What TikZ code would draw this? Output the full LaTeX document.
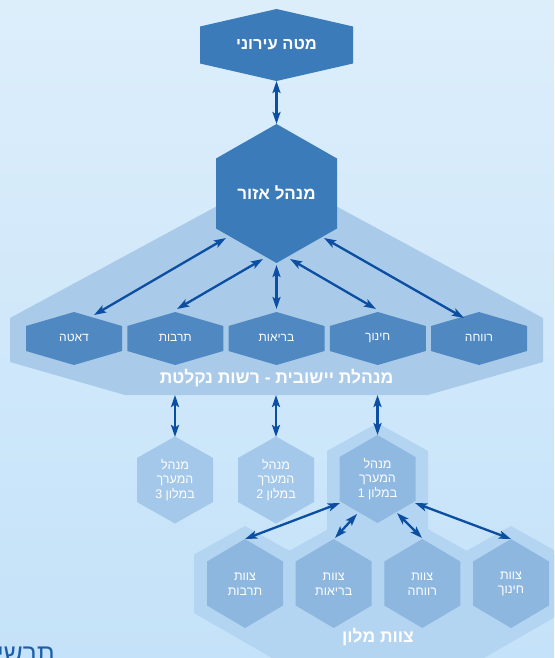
\documentclass[tikz,border=0pt]{standalone}
\usepackage{fontspec}
\setmainfont{Liberation Sans}
\newfontfamily\heb[Script=Hebrew]{Liberation Sans}
\TeXXeTstate=1
\usetikzlibrary{arrows.meta}
\definecolor{bgtop}{HTML}{DDEEFB}
\definecolor{bgbot}{HTML}{C4E2F9}
\definecolor{darkhex}{HTML}{3B7BB9}
\definecolor{lvltwobox}{HTML}{A9CBE9}
\definecolor{lvltwohex}{HTML}{5088C2}
\definecolor{hotelhex}{HTML}{A4C8EA}
\definecolor{hotelone}{HTML}{90B9E1}
\definecolor{teamband}{HTML}{B3D5F1}
\definecolor{teamhex}{HTML}{8EB7E0}
\definecolor{arrowc}{HTML}{0B4EA2}
\definecolor{titlec}{HTML}{1E5EA8}
\newcommand\HexAt[5]{(#1,#2-#5) -- (#1+#3,#2-#4) -- (#1+#3,#2+#4) -- (#1,#2+#5) -- (#1-#3,#2+#4) -- (#1-#3,#2-#4) -- cycle}
\newcommand\RL[1]{\beginR #1\endR}
\tikzset{
  dbl/.style={line width=2.3pt, draw=arrowc, {Stealth[length=12pt,width=8pt,inset=2.5pt]}-{Stealth[length=12pt,width=8pt,inset=2.5pt]}},
  bigtxt/.style={text=white, font=\heb\bfseries\fontsize{17.5}{19}\selectfont, inner sep=0pt},
  midtxt/.style={text=white, font=\heb\fontsize{12}{14}\selectfont, inner sep=0pt},
  smalltxt/.style={text=white, font=\heb\fontsize{12.5}{14.5}\selectfont, align=center, inner sep=0pt},
}
\begin{document}
\begin{tikzpicture}[x=1pt,y=-1pt]
\useasboundingbox (0,0) rectangle (554,658);
\clip (0,0) rectangle (554,658);
\shade[top color=bgtop, bottom color=bgbot] (0,0) rectangle (554,658);
% level-2 container
\fill[lvltwobox] (10,318) -- (276.5,174) -- (543,318) -- (543,362) -- (428,395) -- (125,395) -- (10,362) -- cycle;
% top hexagons
\fill[darkhex] \HexAt{276.5}{45}{76.5}{18.5}{36};
\fill[darkhex] \HexAt{276.5}{193.5}{60.5}{35}{69.5};
% level-2 hexagons
\foreach \cx in {74,175.25,276.5,377.75,479}{
  \fill[lvltwohex] \HexAt{\cx}{338.5}{48}{12.5}{26.5};
}
% team band
\fill[teamband] (194,555) -- (562,555) -- (562,613) -- (411,700) -- (345,700) -- (194,613) -- cycle;
\fill[teamband] (327,451) -- (377.5,423) -- (428,451) -- (428,560) -- (327,560) -- cycle;
\foreach \cx in {245,333.7,422.3,511}{
  \fill[teamband] \HexAt{\cx}{583.5}{51}{29}{57.5};
}
% hotel hexagons
\fill[hotelhex] \HexAt{175}{480}{38}{22}{43.5};
\fill[hotelhex] \HexAt{276}{480}{38}{22}{43.5};
\fill[hotelone] \HexAt{377.5}{479}{38}{22}{44};
% team hexagons
\foreach \cx in {245,333.7,422.3,511}{
  \fill[teamhex] \HexAt{\cx}{583.5}{38}{22}{44.5};
}
% texts
\node[bigtxt, font=\heb\bfseries\fontsize{16.5}{18}\selectfont] (tMeta) at (276.5,45) {\RL{מטה עירוני}};
\node[bigtxt, font=\heb\bfseries\fontsize{17}{19}\selectfont] (tAzor) at (276.5,193) {\RL{מנהל אזור}};
\node[midtxt] (tData) at (74,338) {\RL{דאטה}};
\node[midtxt] (tTarb) at (175.25,338) {\RL{תרבות}};
\node[midtxt] (tBria) at (276.5,338) {\RL{בריאות}};
\node[midtxt] (tHinuch) at (377.75,338) {\RL{חינוך}};
\node[midtxt] (tRevaha) at (479,338) {\RL{רווחה}};
\node[bigtxt] (tYish) at (276.5,378) {\RL{מנהלת יישובית - רשות נקלטת}};
\node[smalltxt] (tH3) at (175,480) {\RL{מנהל}\\\RL{המערך}\\\RL{במלון 3}};
\node[smalltxt] (tH2) at (276,480) {\RL{מנהל}\\\RL{המערך}\\\RL{במלון 2}};
\node[smalltxt] (tH1) at (377.5,479) {\RL{מנהל}\\\RL{המערך}\\\RL{במלון 1}};
\node[smalltxt] (tTT) at (245,584) {\RL{צוות}\\\RL{תרבות}};
\node[smalltxt] (tTB) at (333.7,584) {\RL{צוות}\\\RL{בריאות}};
\node[smalltxt] (tTR) at (422.3,584) {\RL{צוות}\\\RL{רווחה}};
\node[smalltxt] (tTH) at (511,584) {\RL{צוות}\\\RL{חינוך}};
\node[bigtxt] (tTeam) at (378,637) {\RL{צוות מלון}};
\node[text=titlec, font=\heb\fontsize{26}{28}\selectfont, anchor=base east, inner sep=0pt] (tTitle) at (55,662) {\RL{תרשים}};
% arrow end points
\coordinate (mA) at (276.5,81);
\coordinate (mB) at (276.5,124);
\coordinate (z1) at (226,238);   \coordinate (d1) at (94,315);
\coordinate (z2) at (263,259);   \coordinate (d2) at (177,309);
\coordinate (z3) at (276.5,265); \coordinate (d3) at (276.5,309);
\coordinate (z4) at (290,259);   \coordinate (d4) at (376,309);
\coordinate (z5) at (324,238);   \coordinate (d5) at (464,318);
\coordinate (c3) at (175,395);   \coordinate (h3) at (175,437);
\coordinate (c2) at (276,395);   \coordinate (h2) at (276,437);
\coordinate (c1) at (377.5,395); \coordinate (h1) at (377.5,435);
\coordinate (o1) at (340,503);   \coordinate (e1) at (245,539);
\coordinate (o2) at (357,514);   \coordinate (e2) at (335,538);
\coordinate (o3) at (397,513);   \coordinate (e3) at (422,538);
\coordinate (o4) at (415,503);   \coordinate (e4) at (511,539);
% arrows
\draw[dbl] (mA) -- (mB);
\draw[dbl] (z1) -- (d1);
\draw[dbl] (z2) -- (d2);
\draw[dbl] (z3) -- (d3);
\draw[dbl] (z4) -- (d4);
\draw[dbl] (z5) -- (d5);
\draw[dbl] (c3) -- (h3);
\draw[dbl] (c2) -- (h2);
\draw[dbl] (c1) -- (h1);
\draw[dbl] (o1) -- (e1);
\draw[dbl] (o2) -- (e2);
\draw[dbl] (o3) -- (e3);
\draw[dbl] (o4) -- (e4);
\end{tikzpicture}
\end{document}
